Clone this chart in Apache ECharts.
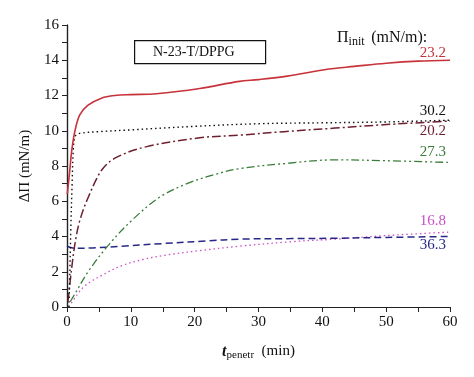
<!DOCTYPE html>
<html>
<head>
<meta charset="utf-8">
<script src="https://cdn.jsdelivr.net/npm/echarts@6/dist/echarts.min.js"></script>
<style>
  html, body { margin: 0; padding: 0; background: #fff; }
  #main { width: 474px; height: 377px; }
</style>
</head>
<body>
<div id="main"></div>
<script>
// values, [t (min), delta Pi (mN/m)]
var s232 = [[0.05,6.4],[0.45,7.8],[0.75,8.9],[1.25,10.0],[2,10.9],[3.3,11.45],[5.4,11.85],[7.5,12.0],[10,12.05],[14,12.1],[20.8,12.4],[27,12.8],[30,12.9],[34.5,13.1],[41,13.5],[45,13.65],[50,13.83],[55,13.95],[60,14.0]];
var s302 = [[0.3,0],[0.45,2],[0.6,4.5],[0.8,7],[1.0,9.0],[1.3,9.7],[2,9.85],[5,9.95],[10,10.05],[20,10.25],[30,10.4],[40,10.45],[50,10.5],[60,10.6]];
var s202 = [[0.15,0.3],[0.7,2.1],[1.25,3.6],[2,4.9],[3.3,6.2],[5.5,7.8],[7.8,8.5],[12.5,9.1],[20.8,9.6],[27,9.75],[34,9.95],[42,10.15],[50,10.35],[60,10.55]];
var s273 = [[0.5,0.3],[1.25,0.75],[3.3,2.0],[6.7,3.6],[10.4,5.0],[14.6,6.25],[18.8,7.0],[23,7.5],[27,7.85],[34.5,8.15],[42,8.35],[50,8.3],[60,8.2]];
var s168 = [[0.3,0],[1,0.4],[2.8,1.2],[6,1.9],[8.6,2.35],[12,2.7],[15.6,2.95],[20.8,3.2],[27,3.45],[35,3.7],[42,3.85],[50,4.05],[60,4.25]];
var s363 = [[0,3.45],[1.25,3.33],[4,3.35],[8.6,3.45],[15,3.6],[22,3.75],[27,3.85],[35,3.88],[42,3.9],[50,3.95],[60,4.0]];

var xMin = 0, xMax = 60, yMin = 0, yMax = 16;

var font = '"Liberation Serif", "DejaVu Serif", serif';
var axisColor = '#222';

var myChart = echarts.init(document.getElementById('main'));

function line(name, data, color, type, width) {
    return {
        name: name,
        type: 'line',
        data: data,
        smooth: 0.35,
        showSymbol: false,
        lineStyle: { color: color, type: type, width: width }
    };
}

var option = {
    animation: false,
    grid: { left: 67, right: 24, top: 25, bottom: 70 },
    xAxis: [
        {
            type: 'value', min: xMin, max: xMax, interval: 5,
            axisLine: { lineStyle: { color: axisColor, width: 1.2 } },
            axisTick: { inside: false, length: 5, lineStyle: { color: axisColor } },
            axisLabel: {
                color: '#111', fontFamily: font, fontSize: 15, margin: 8,
                formatter: function (v) { return v % 10 === 0 ? v : ''; }
            },
            splitLine: { show: false },
            name: '{t|t}{sub|penetr}  (min)',
            nameLocation: 'middle',
            nameGap: 35,
            nameTextStyle: {
                color: '#111', fontFamily: font, fontSize: 15,
                rich: {
                    t: { fontFamily: font, fontSize: 16, fontStyle: 'italic', fontWeight: 'bold', color: '#111' },
                    sub: { fontFamily: font, fontSize: 11, verticalAlign: 'bottom', padding: [8, 0, 0, 0], color: '#111' }
                }
            }
        },
        {
            type: 'value', min: xMin, max: xMax, interval: 5, position: 'top',
            axisLine: { show: true, lineStyle: { color: axisColor, width: 1.2 } },
            axisTick: { show: true, inside: true, length: 4, lineStyle: { color: axisColor } },
            axisLabel: { show: false },
            splitLine: { show: false }
        }
    ],
    yAxis: [
        {
            type: 'value', min: yMin, max: yMax, interval: 1,
            axisLine: { show: true, lineStyle: { color: axisColor, width: 1.2 } },
            axisTick: { show: true, inside: false, length: 5, lineStyle: { color: axisColor } },
            axisLabel: {
                color: '#111', fontFamily: font, fontSize: 15, margin: 8,
                formatter: function (v) { return v % 2 === 0 ? v : ''; }
            },
            splitLine: { show: false },
            name: '\u0394\u03a0 (mN/m)',
            nameLocation: 'middle',
            nameGap: 34,
            nameTextStyle: { color: '#111', fontFamily: font, fontSize: 15 }
        },
        {
            type: 'value', min: yMin, max: yMax, interval: 1, position: 'right',
            axisLine: { show: true, lineStyle: { color: axisColor, width: 1.2 } },
            axisTick: { show: true, inside: true, length: 4, lineStyle: { color: axisColor } },
            axisLabel: { show: false },
            splitLine: { show: false }
        }
    ],
    series: [
        line('16.8', s168, '#c84fc8', [1.5, 3], 1.3),
        line('36.3', s363, '#27278a', [7, 4], 1.5),
        line('27.3', s273, '#3a7d3a', [8, 3, 2, 3, 2, 3], 1.3),
        line('20.2', s202, '#6e1f30', [9, 3, 2, 3], 1.5),
        line('30.2', s302, '#111', [1.5, 3], 1.4),
        line('23.2', s232, '#c8323a', 'solid', 1.6)
    ],
    graphic: [
        {
            type: 'rect', left: 134, top: 40,
            shape: { width: 131, height: 23 },
            style: { fill: '#fff', stroke: '#111', lineWidth: 1.2 }
        },
        {
            type: 'text', left: 153, top: 45,
            style: { text: 'N-23-T/DPPG', font: '14px ' + font, fill: '#111' }
        },
        {
            type: 'text', left: 337, top: 30,
            style: {
                text: '{p|\u03a0}{sub|init}  {p|(mN/m):}',
                rich: {
                    p: { font: '16px ' + font, fill: '#111' },
                    sub: { font: '12px ' + font, fill: '#111', padding: [8, 0, 0, 0] }
                }
            }
        },
        { type: 'text', right: 28, top: 46, style: { text: '23.2', font: '15px ' + font, fill: '#c8323a' } },
        { type: 'text', right: 28, top: 104, style: { text: '30.2', font: '15px ' + font, fill: '#111' } },
        { type: 'text', right: 28, top: 124, style: { text: '20.2', font: '15px ' + font, fill: '#6e1f30' } },
        { type: 'text', right: 28, top: 145, style: { text: '27.3', font: '15px ' + font, fill: '#3a7d3a' } },
        { type: 'text', right: 28, top: 214, style: { text: '16.8', font: '15px ' + font, fill: '#c84fc8' } },
        { type: 'text', right: 28, top: 238, style: { text: '36.3', font: '15px ' + font, fill: '#27278a' } }
    ]
};

option && myChart.setOption(option);
window.onresize = myChart.resize;
</script>
</body>
</html>
